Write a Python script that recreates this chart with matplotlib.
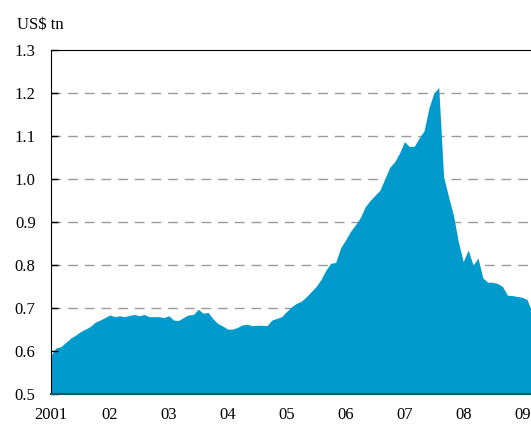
import numpy as np
import matplotlib.pyplot as plt

# monthly values from Jan 2001 (US$ tn)
values = [
    0.590, 0.607, 0.610, 0.620, 0.630, 0.637, 0.645, 0.651, 0.657, 0.667, 0.672, 0.678,
    0.684, 0.680, 0.682, 0.680, 0.683, 0.685, 0.682, 0.685, 0.680, 0.680, 0.680, 0.678,
    0.682, 0.672, 0.671, 0.678, 0.684, 0.685, 0.697, 0.688, 0.690, 0.675, 0.664, 0.658,
    0.651, 0.651, 0.655, 0.661, 0.662, 0.659, 0.660, 0.660, 0.659, 0.672, 0.676, 0.680,
    0.692, 0.703, 0.711, 0.716, 0.726, 0.738, 0.750, 0.766, 0.788, 0.804, 0.806, 0.840,
    0.858, 0.878, 0.893, 0.910, 0.935, 0.950, 0.962, 0.974, 1.000, 1.027, 1.040, 1.060,
    1.087, 1.076, 1.076, 1.095, 1.112, 1.165, 1.200, 1.213, 1.005, 0.959, 0.916, 0.854,
    0.808, 0.835, 0.800, 0.816, 0.770, 0.760, 0.760, 0.757, 0.750, 0.730, 0.729, 0.727,
    0.725, 0.720, 0.690,
]
start_year = 2001
year_labels = ['2001', '02', '03', '04', '05', '06', '07', '08', '09']
y_ticks = [0.5, 0.6, 0.7, 0.8, 0.9, 1.0, 1.1, 1.2, 1.3]

plt.rcParams['font.family'] = ['Liberation Serif', 'DejaVu Serif']

x = start_year + np.arange(len(values)) / 12.0

fig = plt.figure(figsize=(5.31, 4.26), dpi=100)
ax = fig.add_axes([0.096, 0.075, 0.904, 0.8075])

ax.fill_between(x, 0.5, values, color='#009acd', linewidth=0)

ax.set_xlim(start_year, start_year + 8.15)
ax.set_ylim(0.5, 1.3)

ax.set_yticks(y_ticks)
ax.set_yticklabels(['%.1f' % v for v in y_ticks])
ax.set_xticks(start_year + np.arange(len(year_labels)))
ax.set_xticklabels(year_labels)

ax.tick_params(axis='y', direction='in', length=5, width=1, pad=11, labelsize=12)
ax.tick_params(axis='x', length=0, pad=9, labelsize=12)

for v in y_ticks[1:-1]:
    ax.axhline(v, color='#9a9a9a', linewidth=1, linestyle=(0, (7, 5)), zorder=0)

ax.spines['right'].set_visible(False)
ax.spines['left'].set_color('black')
ax.spines['top'].set_color('black')
ax.spines['bottom'].set_color('#15526b')
ax.spines['bottom'].set_linewidth(1.5)

fig.text(0.032, 0.941, 'US$ tn', ha='left', va='center', fontsize=12)

fig.savefig('out.png', dpi=100)
